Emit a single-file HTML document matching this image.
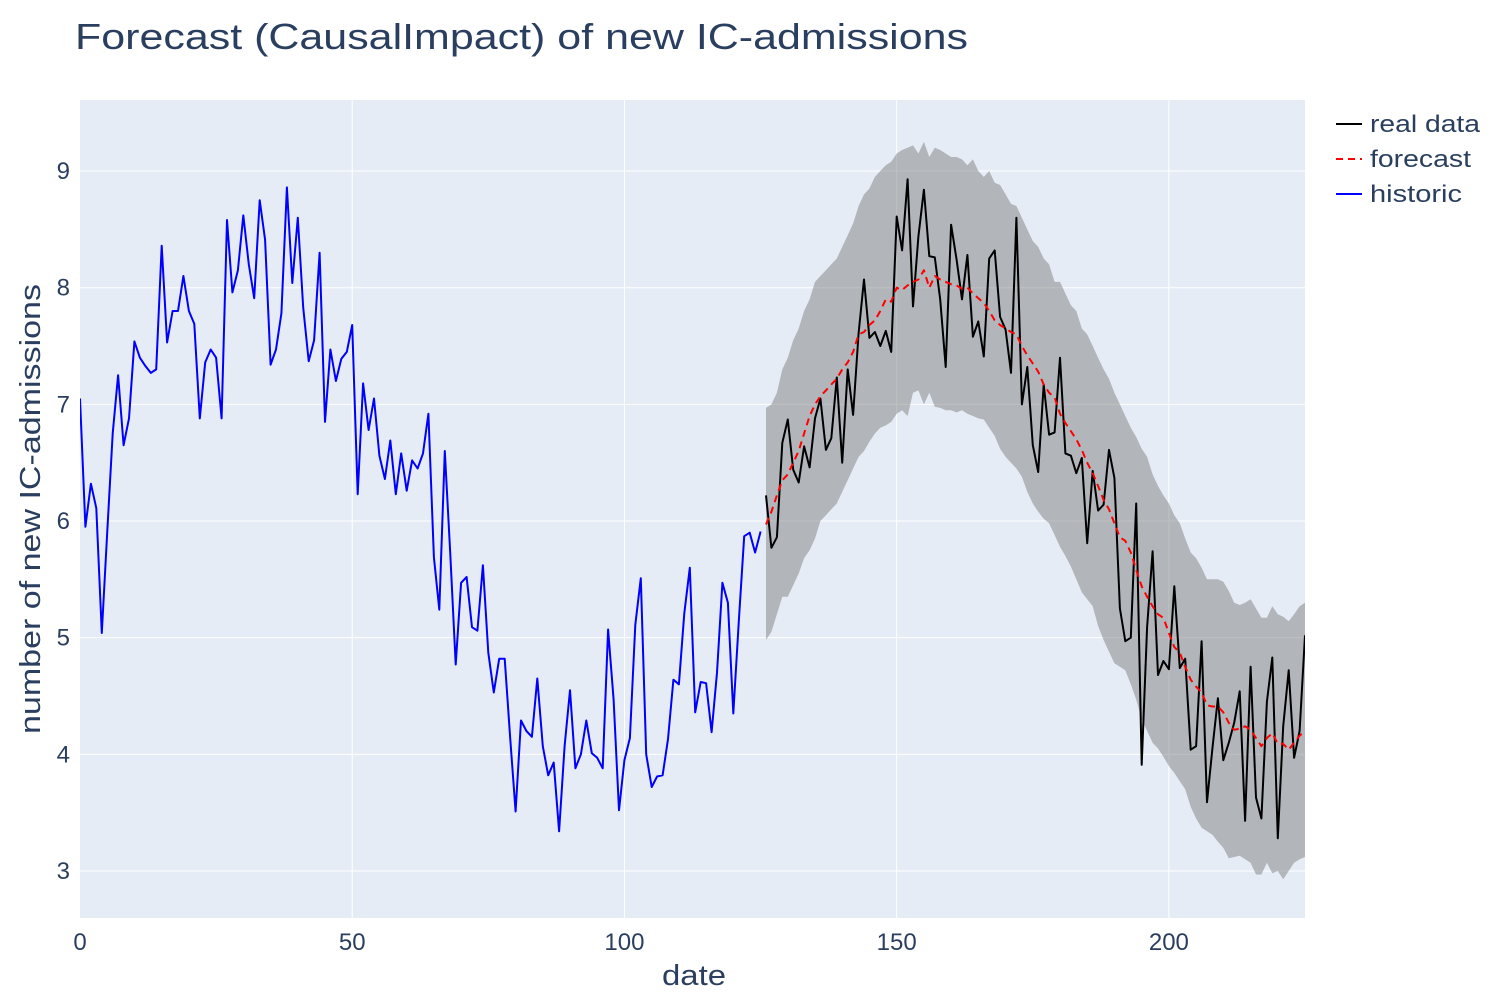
<!DOCTYPE html>
<html><head><meta charset="utf-8"><style>
body{margin:0;background:#fff;font-family:"Liberation Sans",sans-serif;}
svg text{font-family:"Liberation Sans",sans-serif;fill:#2a3f5f;}
</style></head><body>
<svg id="chart" width="1500" height="1000" xmlns="http://www.w3.org/2000/svg">
<defs><clipPath id="pc"><rect x="80" y="100" width="1225" height="818"/></clipPath></defs>
<rect x="0" y="0" width="1500" height="1000" fill="#fff"/>
<rect x="80" y="100" width="1225" height="818" fill="#e5ecf6"/>
<g id="grid"></g><g id="series" clip-path="url(#pc)"></g><g id="ticks"></g>
<text x="75" y="49" font-size="36" textLength="893" lengthAdjust="spacingAndGlyphs">Forecast (CausalImpact) of new IC-admissions</text>
<text x="694" y="985" font-size="29" text-anchor="middle" textLength="64" lengthAdjust="spacingAndGlyphs">date</text>
<text transform="translate(40,509) rotate(-90)" font-size="29" text-anchor="middle" textLength="450" lengthAdjust="spacingAndGlyphs">number of new IC-admissions</text>
<g>
<g><line x1="1336" y1="124" x2="1362" y2="124" stroke="#000" stroke-width="2"/><text x="1370" y="132" font-size="24" textLength="110" lengthAdjust="spacingAndGlyphs">real data</text></g>
<g><line x1="1336" y1="159" x2="1362" y2="159" stroke="red" stroke-width="2" stroke-dasharray="7,5"/><text x="1370" y="167" font-size="24" textLength="101" lengthAdjust="spacingAndGlyphs">forecast</text></g>
<g><line x1="1336" y1="194" x2="1362" y2="194" stroke="blue" stroke-width="2"/><text x="1370" y="202" font-size="24" textLength="92" lengthAdjust="spacingAndGlyphs">historic</text></g>
</g>
</svg>
<script>
const historic=[7.05,5.95,6.32,6.11,5.04,5.9,6.75,7.25,6.65,6.88,7.54,7.4,7.33,7.27,7.3,8.36,7.53,7.8,7.8,8.1,7.8,7.69,6.88,7.36,7.47,7.4,6.88,8.58,7.96,8.15,8.62,8.2,7.91,8.75,8.41,7.34,7.47,7.78,8.86,8.04,8.6,7.83,7.37,7.55,8.3,6.85,7.47,7.2,7.39,7.45,7.68,6.23,7.18,6.78,7.05,6.56,6.36,6.69,6.23,6.58,6.26,6.52,6.45,6.58,6.92,5.69,5.24,6.6,5.73,4.77,5.47,5.52,5.09,5.06,5.62,4.87,4.53,4.82,4.82,4.15,3.51,4.29,4.2,4.15,4.65,4.07,3.82,3.93,3.34,4.07,4.55,3.88,4.0,4.29,4.01,3.97,3.88,5.07,4.47,3.52,3.95,4.14,5.11,5.51,4.0,3.72,3.81,3.82,4.13,4.64,4.6,5.21,5.6,4.36,4.62,4.61,4.19,4.7,5.47,5.3,4.35,5.14,5.87,5.9,5.73,5.91];
const realData=[6.22,5.77,5.86,6.67,6.87,6.44,6.33,6.64,6.46,6.88,7.05,6.61,6.71,7.23,6.5,7.3,6.91,7.61,8.07,7.57,7.62,7.5,7.63,7.45,8.61,8.32,8.93,7.84,8.44,8.84,8.27,8.26,7.9,7.32,8.54,8.24,7.9,8.28,7.58,7.71,7.41,8.25,8.32,7.75,7.64,7.27,8.6,7.0,7.32,6.65,6.42,7.17,6.74,6.76,7.4,6.58,6.56,6.41,6.54,5.81,6.43,6.09,6.14,6.61,6.37,5.25,4.97,5.0,6.15,3.91,5.09,5.74,4.68,4.8,4.73,5.44,4.74,4.82,4.04,4.07,4.97,3.59,4.05,4.48,3.95,4.1,4.27,4.54,3.43,4.75,3.63,3.45,4.45,4.83,3.28,4.24,4.72,3.97,4.2,5.02];
const forecast=[5.97,6.08,6.22,6.35,6.4,6.5,6.6,6.75,6.9,7.0,7.07,7.12,7.17,7.22,7.3,7.36,7.45,7.6,7.62,7.68,7.72,7.8,7.9,7.88,8.0,7.98,8.02,8.05,8.07,8.15,8.0,8.1,8.07,8.05,8.03,8.02,7.99,8.0,7.95,7.91,7.87,7.8,7.72,7.68,7.65,7.62,7.6,7.5,7.42,7.35,7.28,7.17,7.1,7.06,6.92,6.84,6.77,6.7,6.61,6.5,6.41,6.3,6.18,6.1,5.98,5.86,5.83,5.73,5.58,5.44,5.35,5.27,5.2,5.17,5.04,4.92,4.87,4.75,4.64,4.58,4.53,4.42,4.41,4.41,4.36,4.27,4.21,4.22,4.24,4.21,4.14,4.07,4.14,4.18,4.09,4.09,4.04,4.1,4.16,4.2,4.22];
const upper=[6.97,7.0,7.1,7.3,7.4,7.55,7.65,7.8,7.9,8.05,8.1,8.15,8.2,8.25,8.35,8.45,8.55,8.7,8.8,8.85,8.95,9.0,9.05,9.08,9.15,9.18,9.2,9.22,9.15,9.25,9.12,9.2,9.18,9.15,9.12,9.12,9.1,9.05,9.1,9.0,8.95,9.0,8.9,8.88,8.8,8.72,8.7,8.6,8.5,8.4,8.35,8.25,8.2,8.05,8.05,7.95,7.85,7.8,7.65,7.6,7.5,7.4,7.3,7.22,7.1,7.0,6.9,6.8,6.72,6.62,6.55,6.4,6.3,6.22,6.15,6.05,5.98,5.85,5.73,5.68,5.6,5.5,5.5,5.5,5.48,5.4,5.3,5.28,5.3,5.33,5.25,5.17,5.17,5.27,5.2,5.18,5.14,5.2,5.27,5.3,5.32];
const lower=[4.98,5.05,5.2,5.35,5.35,5.45,5.55,5.68,5.75,5.85,6.0,6.05,6.1,6.15,6.25,6.35,6.45,6.55,6.6,6.68,6.75,6.8,6.82,6.85,6.92,6.95,6.9,7.1,7.12,7.0,7.1,6.98,6.97,6.95,6.95,6.93,6.95,6.92,6.9,6.88,6.87,6.8,6.73,6.62,6.55,6.5,6.45,6.38,6.25,6.15,6.08,6.02,5.98,5.88,5.78,5.7,5.61,5.5,5.39,5.33,5.27,5.1,4.98,4.88,4.78,4.75,4.72,4.6,4.47,4.3,4.2,4.1,4.05,3.98,3.9,3.84,3.77,3.7,3.55,3.45,3.37,3.34,3.31,3.25,3.2,3.11,3.12,3.13,3.1,3.07,2.97,2.97,3.07,2.98,3.0,2.93,3.0,3.07,3.1,3.12,3.13];
const xTicks=[0,50,100,150,200];
const yTicks=[3,4,5,6,7,8,9];
const forecastStart=126;

const NS='http://www.w3.org/2000/svg';
const X0=80,X1=1305,Y0=918,Y1=100,XMIN=0,XMAX=225,YMIN=2.597,YMAX=9.609;
function xs(v){return X0+(v-XMIN)/(XMAX-XMIN)*(X1-X0);}
function ys(v){return Y0-(v-YMIN)/(YMAX-YMIN)*(Y0-Y1);}
function mk(tag,attrs,parent){const e=document.createElementNS(NS,tag);for(const k in attrs)e.setAttribute(k,attrs[k]);parent.appendChild(e);return e;}
const grid=document.getElementById('grid'),ser=document.getElementById('series'),tk=document.getElementById('ticks');
xTicks.forEach(t=>{
  if(t>XMIN){const l=mk('line',{x1:xs(t),x2:xs(t),y1:Y1,y2:Y0,stroke:'#fff','stroke-width':1},grid);
  
  }
  const tx=mk('text',{x:xs(t),y:950,'font-size':24,'text-anchor':'middle'},tk);tx.textContent=t;
  
  
});
yTicks.forEach(t=>{
  const l=mk('line',{x1:X0,x2:X1,y1:ys(t),y2:ys(t),stroke:'#fff','stroke-width':1},grid);
  
  
  const tx=mk('text',{x:70,y:ys(t)+8,'font-size':24,'text-anchor':'end'},tk);tx.textContent=t;
  
  
});
let d='';
upper.forEach((v,i)=>{d+=(i?'L':'M')+xs(forecastStart+i).toFixed(1)+','+ys(v).toFixed(1);});
for(let i=lower.length-1;i>=0;i--){d+='L'+xs(forecastStart+i).toFixed(1)+','+ys(lower[i]).toFixed(1);}
d+='Z';
const band=mk('path',{d:d,fill:'rgba(128,128,128,0.5)',stroke:'none'},ser);


function line(arr,start,color,dash,name){
  const pts=arr.map((v,i)=>xs(start+i).toFixed(1)+','+ys(v).toFixed(1)).join(' ');
  const p=mk('polyline',{points:pts,fill:'none',stroke:color,'stroke-width':2,'stroke-linejoin':'round'},ser);
  if(dash)p.setAttribute('stroke-dasharray',dash);
  
  
}
line(historic,0,'blue',null,'historic-line');
line(realData,forecastStart,'#000',null,'real-data-line');
line(forecast,forecastStart,'red','7,5','forecast-line');
</script>
</body></html>
